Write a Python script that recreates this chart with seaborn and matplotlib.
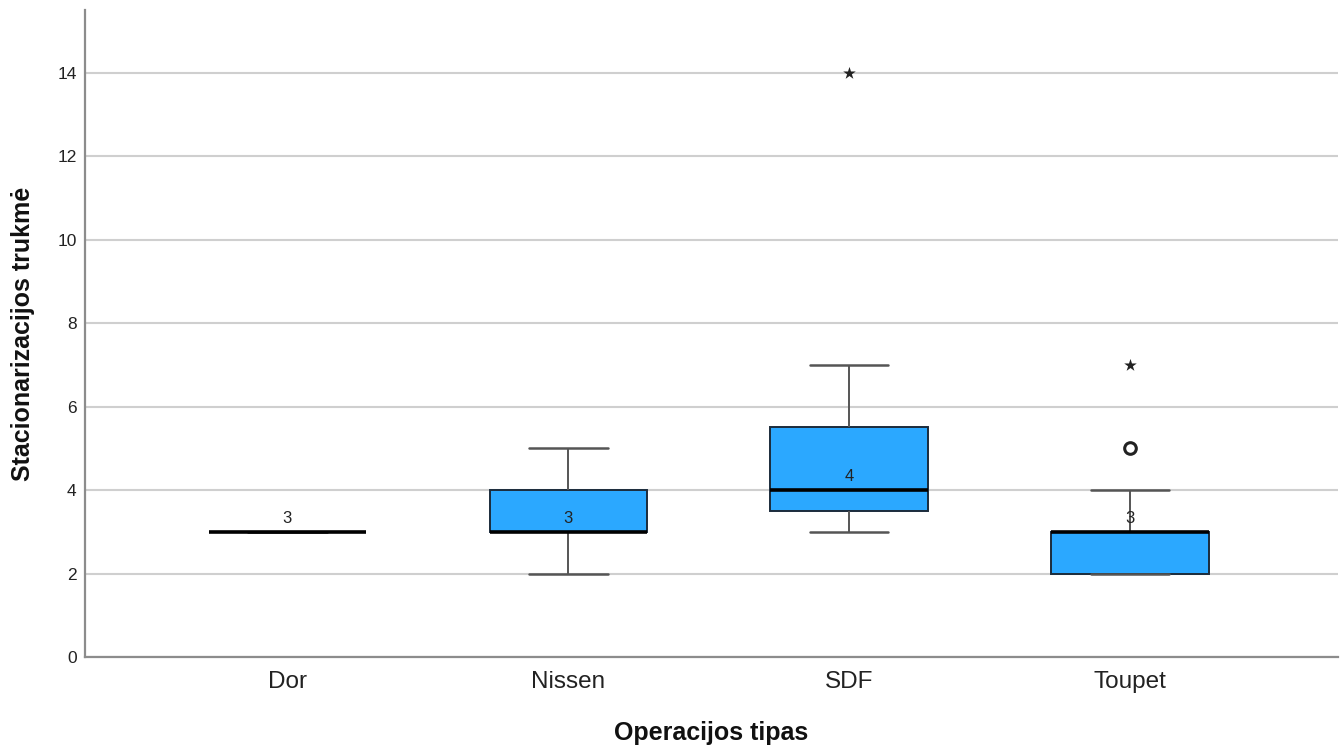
import numpy as np
import pandas as pd
import matplotlib
matplotlib.use("Agg")
import matplotlib.pyplot as plt
import seaborn as sns

# ---- data (values per operation type) ----
groups = ["Dor", "Nissen", "SDF", "Toupet"]
dor_values = [3, 3, 3]
nissen_values = [2, 3, 3, 3, 3, 4, 4, 5]
sdf_values = [3, 3, 3, 4, 4, 4, 5, 5, 6, 7, 14]
toupet_values = [2, 2, 2, 2, 2, 3, 3, 3, 3, 3, 3, 4, 5, 7]
x_title = "Operacijos tipas"
y_title = "Stacionarizacijos trukmė"
y_ticks = [0, 2, 4, 6, 8, 10, 12, 14]

values_by_group = {
    "Dor": dor_values,
    "Nissen": nissen_values,
    "SDF": sdf_values,
    "Toupet": toupet_values,
}
df = pd.DataFrame(
    [(g, v) for g in groups for v in values_by_group[g]],
    columns=["tipas", "trukme"],
)

sns.set_theme(style="white")
plt.rcParams["font.family"] = ["Liberation Sans", "DejaVu Sans"]

fig = plt.figure(figsize=(13.42, 7.5), dpi=100)
ax = fig.add_axes([0.0633, 0.124, 0.9337, 0.8627])

box_color = "#2BA8FF"
edge_color = "#1B2B3B"
whisk_color = "#555555"

sns.boxplot(
    data=df, x="tipas", y="trukme", order=groups, ax=ax,
    width=0.56, whis=1.5, showfliers=False,
    color=box_color, saturation=1,
    boxprops=dict(facecolor=box_color, edgecolor=edge_color, linewidth=1.4),
    whiskerprops=dict(color=whisk_color, linewidth=1.4),
    capprops=dict(color=whisk_color, linewidth=1.8),
    medianprops=dict(color="black", linewidth=2.6),
    zorder=3,
)

# outliers (Tukey fences): circle beyond 1.5 IQR, star beyond 3 IQR
for i, g in enumerate(groups):
    v = np.array(values_by_group[g], dtype=float)
    q1, q3 = np.percentile(v, [25, 75])
    iqr = q3 - q1
    mild = v[((v > q3 + 1.5 * iqr) & (v <= q3 + 3 * iqr)) |
             ((v < q1 - 1.5 * iqr) & (v >= q1 - 3 * iqr))]
    extreme = v[(v > q3 + 3 * iqr) | (v < q1 - 3 * iqr)]
    if len(mild):
        ax.scatter(np.full(len(mild), i), mild, marker="o", s=70,
                   facecolors="white", edgecolors="#222222", linewidths=2.2,
                   zorder=4)
    if len(extreme):
        ax.scatter(np.full(len(extreme), i), extreme, marker="*", s=90,
                   color="#222222", linewidths=0, zorder=4)

# median labels
medians = df.groupby("tipas")["trukme"].median()
for i, g in enumerate(groups):
    m = medians[g]
    ax.annotate(f"{m:g}", xy=(i, m), xytext=(0, 4), textcoords="offset points",
                ha="center", va="bottom", fontsize=12, color="#222222",
                zorder=5)

ax.set_xlim(-0.72, 3.74)
ax.set_ylim(0, 15.5)
ax.set_yticks(y_ticks)
ax.yaxis.grid(True, color="#CFCFCF", linewidth=1.5, zorder=0)
ax.set_axisbelow(True)
ax.tick_params(axis="y", length=0, pad=6, labelsize=12.5, labelcolor="#222222")
ax.tick_params(axis="x", length=0, pad=10, labelsize=17.5, labelcolor="#222222")

for side in ["top", "right"]:
    ax.spines[side].set_visible(False)
for side in ["left", "bottom"]:
    ax.spines[side].set_color("#8C8C8C")
    ax.spines[side].set_linewidth(1.6)

ax.set_xlabel(x_title, fontsize=18, fontweight="bold", labelpad=20,
              color="#111111")
ax.set_ylabel(y_title, fontsize=18, fontweight="bold", labelpad=16,
              color="#111111")

fig.savefig("out.png", dpi=100)
